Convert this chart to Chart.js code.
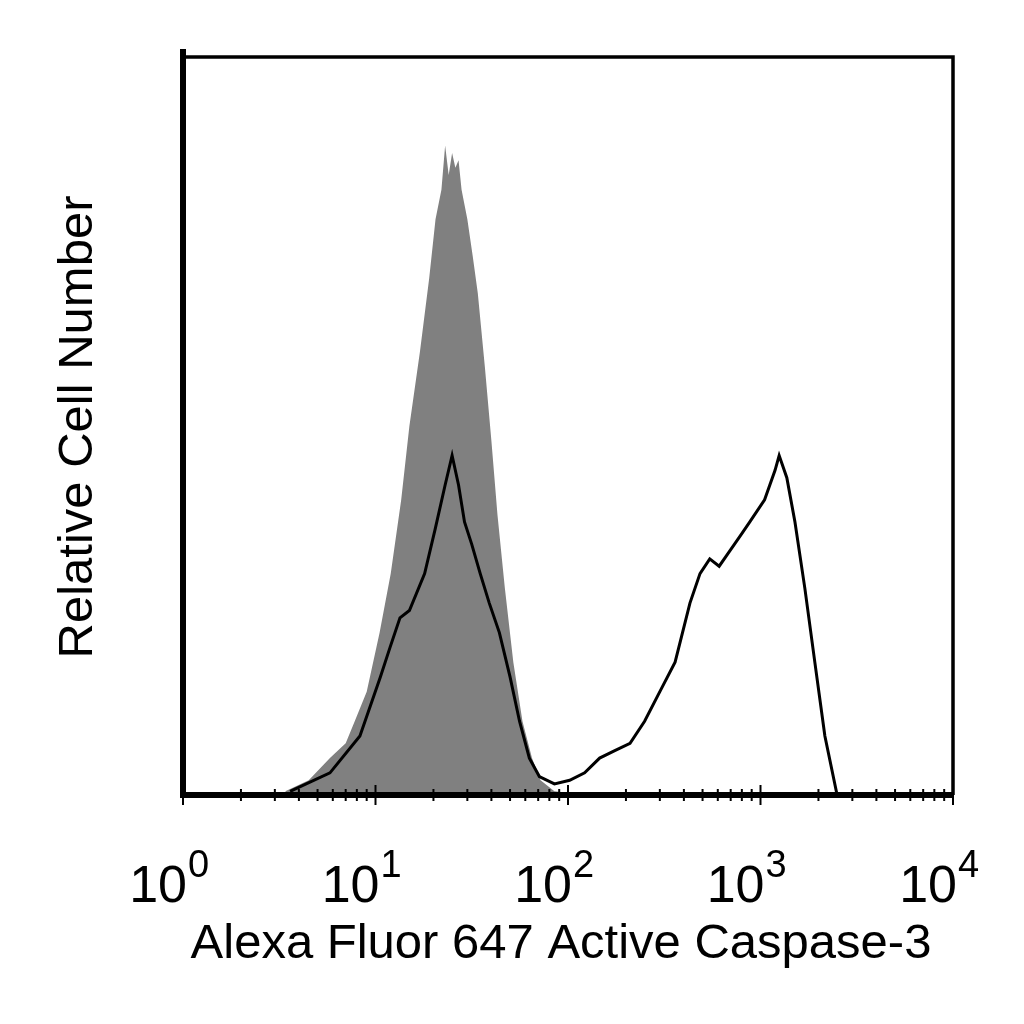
<!DOCTYPE html>
<html><head><meta charset="utf-8">
<script src="https://cdn.jsdelivr.net/npm/chart.js@4"></script>
<style>html,body{margin:0;padding:0;background:#fff}#c{width:1024px;height:1024px}</style>
</head><body><div id="c"><canvas id="cv" width="1024" height="1024"></canvas></div>
<script>
const grayX = [3.4,4.5,5.8,7.0,7.8,9.0,10.5,12,13.6,15,17,19,20.5,22,23,24,25,26,27,28,30,32,34,37,40,43,47,52,58,65,72,85,100,200,1000];
const grayY = [0.5,2,5,7,10,14,22,30,40,50,60,70,78,82,88,84,87,85,86,82,78,73,68,58,48,38,28,18,10,5,2,0.5,0.3,0.2,0];
const blackX = [3.6,5.8,8.3,10.6,11.9,13.4,15,18,20.4,23,25,27,29,31.6,35,39,44,50,56,63,71,85,102,122,146,175,210,250,300,360,430,485,545,610,690,780,880,1050,1190,1250,1370,1510,1700,1915,2160,2500];
const blackY = [0.5,3,8,16,20,24,25,30,36,42,46,42,37,34,30,26,22,16,10,5,2.5,1.5,2,3,5,6,7,10,14,18,26,30,32,31,33,35,37,40,44,46,43,37,28,18,8,0];
const decadeLabels = ["0","1","2","3","4"];
const xTitle = "Alexa Fluor 647 Active Caspase-3";
const yTitle = "Relative Cell Number";

const deco = {
  id:'deco',
  afterDraw(chart){
    const ctx = chart.ctx, a = chart.chartArea, xs = chart.scales.x;
    ctx.save();
    ctx.strokeStyle='#000';
    ctx.lineWidth=3.5;
    ctx.beginPath();ctx.moveTo(a.left,a.top);ctx.lineTo(a.right,a.top);ctx.lineTo(a.right,a.bottom);ctx.stroke();
    ctx.lineWidth=6;
    ctx.beginPath();ctx.moveTo(a.left,a.top-8);ctx.lineTo(a.left,a.bottom);ctx.lineTo(a.right,a.bottom);ctx.stroke();
    ctx.lineWidth=2;
    for(let d=0;d<4;d++){
      for(let m=1;m<10;m++){
        const px = xs.getPixelForValue(m*Math.pow(10,d));
        const h = m===1?10:6;
        ctx.beginPath();ctx.moveTo(px,a.bottom-h);ctx.lineTo(px,a.bottom+h);ctx.stroke();
      }
    }
    const pe = xs.getPixelForValue(10000);
    ctx.beginPath();ctx.moveTo(pe,a.bottom-10);ctx.lineTo(pe,a.bottom+10);ctx.stroke();
    ctx.fillStyle='#000';
    ctx.textBaseline='alphabetic';
    decadeLabels.forEach((s,i)=>{
      const px = xs.getPixelForValue(Math.pow(10,i));
      ctx.font='52px "Liberation Sans", Arial, sans-serif';
      const w = ctx.measureText('10').width;
      ctx.textAlign='left';
      ctx.fillText('10',px-w+4,902);
      ctx.font='38px "Liberation Sans", Arial, sans-serif';
      ctx.fillText(s,px+5,877);
    });
    ctx.font='49px "Liberation Sans", Arial, sans-serif';
    ctx.textAlign='center';
    ctx.fillText(xTitle,561,958);
    ctx.translate(92,427);ctx.rotate(-Math.PI/2);
    ctx.fillText(yTitle,0,0);
    ctx.restore();
  }
};

new Chart(document.getElementById('cv'),{
  type:'line',
  data:{datasets:[
    {data:grayX.map((x,i)=>({x,y:grayY[i]})),borderWidth:0,borderColor:'rgba(0,0,0,0)',backgroundColor:'#808080',fill:'origin',pointRadius:0,tension:0,order:2},
    {data:blackX.map((x,i)=>({x,y:blackY[i]})),borderWidth:3,borderColor:'#000',fill:false,pointRadius:0,tension:0,order:1}
  ]},
  options:{
    responsive:false,animation:false,
    layout:{padding:{left:183,right:71,top:57,bottom:229}},
    plugins:{legend:{display:false},tooltip:{enabled:false}},
    scales:{
      x:{type:'logarithmic',min:1,max:10000,display:false},
      y:{type:'linear',min:0,max:100,display:false}
    }
  },
  plugins:[deco]
});
</script></body></html>
